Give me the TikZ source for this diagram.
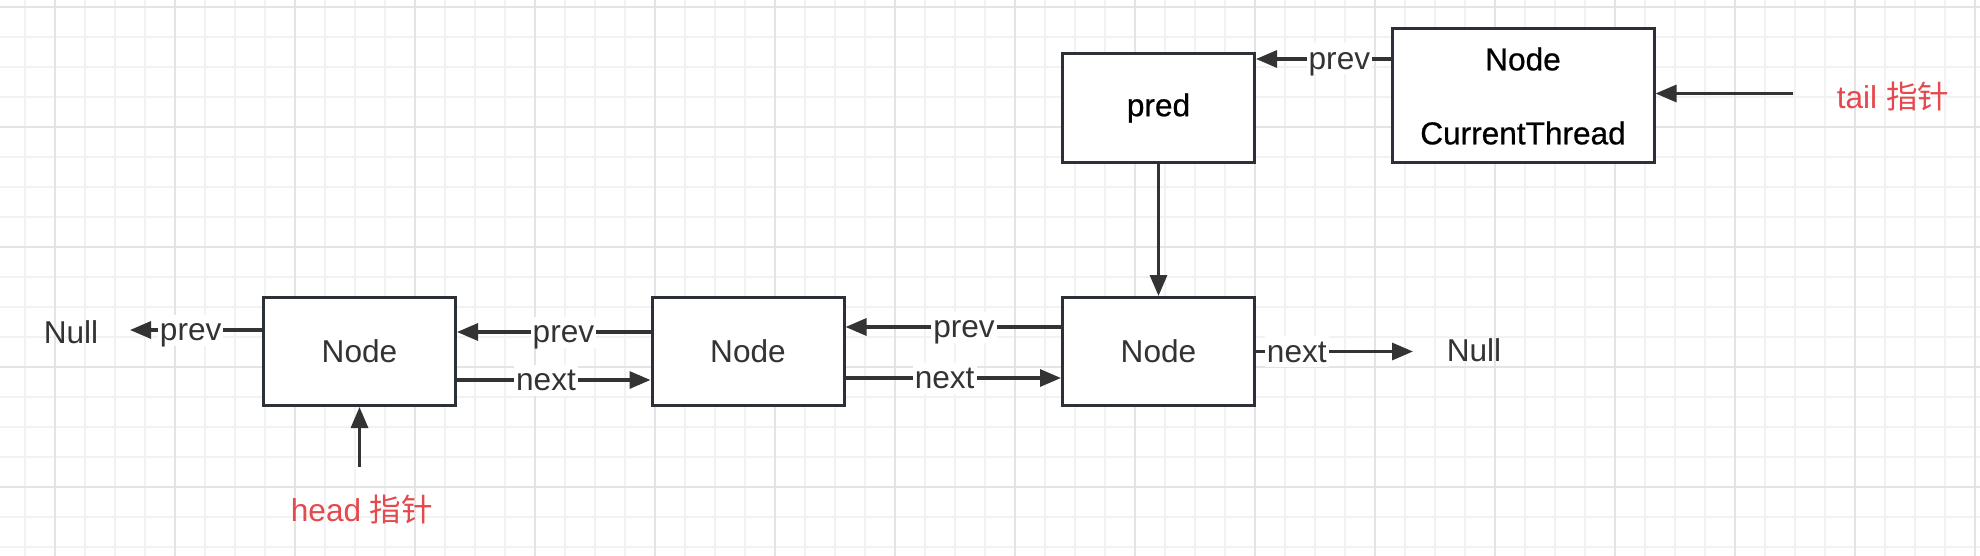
\documentclass[tikz,border=0pt]{standalone}
\usepackage{fontspec}
\setmainfont{Liberation Sans}
\newfontfamily\medfont[FakeBold=0.7]{Liberation Sans}
\newfontfamily\cjk{Noto Sans CJK SC}
\usetikzlibrary{arrows.meta,calc}
\definecolor{ink}{HTML}{333333}
\definecolor{boxline}{HTML}{2C3038}
\definecolor{gridminor}{HTML}{F2F2F2}
\definecolor{gridmajor}{HTML}{E4E4E4}
\definecolor{ptr}{HTML}{E5484D}
\begin{document}
\begin{tikzpicture}[x=0.5pt,y=-0.5pt,
  box/.style={draw=boxline, line width=1.5pt, fill=white, minimum width=96pt, minimum height=54pt, inner sep=0pt, text=ink, font=\fontsize{15.8}{18}\selectfont},
  arr/.style={draw=ink, line width=1.6pt, -{Triangle[length=10.5pt,width=8.5pt]}},
  lab/.style={fill=white, text=ink, inner sep=1pt, text height=12pt, text depth=1.5pt, font=\fontsize{15.8}{18}\selectfont},
  txt/.style={text=ink, inner sep=0pt, font=\fontsize{15.8}{18}\selectfont},
  toptxt/.style={text=black, inner sep=0pt, font=\medfont\fontsize{15.8}{18}\selectfont},
  ptrtxt/.style={text=ptr, inner sep=0pt, font=\fontsize{15.8}{18}\selectfont}]
\useasboundingbox (0,0) rectangle (1980,556);
\fill[white] (0,0) rectangle (1980,556);
\foreach \x in {25,55,...,1980} \draw[gridminor, line width=0.9pt] (\x,0) -- (\x,556);
\foreach \y in {7,37,...,556} \draw[gridminor, line width=0.9pt] (0,\y) -- (1980,\y);
\foreach \x in {55,175,...,1980} \draw[gridmajor, line width=1.1pt] (\x,0) -- (\x,556);
\foreach \y in {7,127,...,556} \draw[gridmajor, line width=1.1pt] (0,\y) -- (1980,\y);

% boxes
\node[box] (n1) at (359.5,351.5) {Node};
\node[box] (n2) at (748,351.5) {Node};
\node[box] (n3) at (1158.5,351.5) {Node};
\node[box, text=black, font=\medfont\fontsize{15.8}{18}\selectfont] (pred) at (1158.5,108) {pred};
\node[box, minimum width=131pt, minimum height=66.5pt] (ct) at (1523,95.5) {};
\node[toptxt] (ctnode) at ($(ct.center)+(0,-36.5)$) {Node};
\node[toptxt] (ctthread) at ($(ct.center)+(0,37.5)$) {CurrentThread};

% free texts
\node[txt] (nullL) at (71,332) {Null};
\node[txt] (nullR) at (1474,350) {Null};
\node[ptrtxt] (head) at (362,509) {head {\cjk 指针}};
\node[ptrtxt] (tail) at (1893,96) {tail {\cjk 指针}};
\coordinate (nullLtip) at (130,330);
\coordinate (nullRtip) at (1413,351.5);
\coordinate (headstart) at (359.5,467);
\coordinate (tailstart) at (1793,93.5);

% connectors
\draw[arr] ($(n1.west)+(0,-21.5)$) -- node[lab, pos=0.54]{prev} (nullLtip);
\draw[arr] ($(n2.west)+(0,-19.5)$) -- node[lab, pos=0.45]{prev} ($(n1.east)+(0,-19.5)$);
\draw[arr] ($(n1.east)+(0,28.5)$) -- node[lab, pos=0.46]{next} ($(n2.west)+(0,28.5)$);
\draw[arr] ($(n3.west)+(0,-24.5)$) -- node[lab, pos=0.45]{prev} ($(n2.east)+(0,-24.5)$);
\draw[arr] ($(n2.east)+(0,26.5)$) -- node[lab, pos=0.46]{next} ($(n3.west)+(0,26.5)$);
\draw[arr] (n3.east) -- node[lab, pos=0.26]{next} (nullRtip);
\draw[arr] (pred.south) -- (n3.north);
\draw[arr] ($(ct.west)+(0,-36.5)$) -- node[lab, pos=0.38]{prev} ($(pred.east)+(0,-49)$);
\draw[arr] (tailstart) -- ($(ct.east)+(0,-2)$);
\draw[arr] (headstart) -- (n1.south);
\end{tikzpicture}
\end{document}
